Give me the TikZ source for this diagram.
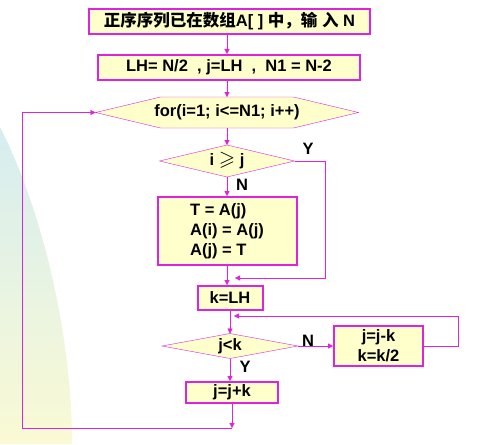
\documentclass[tikz,border=0pt]{standalone}
\usepackage{fontspec}
\setmainfont{Liberation Sans}
\newfontfamily\cjk{Noto Sans CJK SC}
\usepackage{amssymb}
\usetikzlibrary{shapes,arrows,positioning,arrows.meta,backgrounds}
\definecolor{edge}{RGB}{222,34,222}
\definecolor{boxfill}{RGB}{255,255,204}
\definecolor{bgtop}{RGB}{214,237,240}
\definecolor{bgbot}{RGB}{250,250,212}

\begin{document}
\begin{tikzpicture}[x=1pt, y=-1pt, font=\fontsize{16.5}{20}\selectfont\bfseries, line width=2pt]

% Styles for boxes
\tikzstyle{box} = [rectangle, draw=edge, fill=boxfill, inner sep=0pt, text centered]
\tikzstyle{gate} = [rectangle, inner sep=0pt, text centered]
\tikzstyle{outline} = [draw=edge, fill=boxfill]
\tikzstyle{tag} = [inner sep=0pt]
\tikzstyle{arr} = [draw=edge, -{Triangle[length=5pt,width=5pt]}]

\useasboundingbox (0,0) rectangle (481,444);
\shade[top color=bgtop, bottom color=bgbot] (0,127) .. controls (40,205) and (72,330) .. (72,444) -- (0,444) -- cycle;

% Nodes
\node [box, minimum width=281pt, minimum height=25pt] (start) at (229.5,21.5) {{\cjk 正序序列已在数组}A[ ] {\cjk 中，输}~{\cjk 入}~N};
\node [box, minimum width=262pt, minimum height=25pt] (init) at (229,67.5) {LH= N/2\ \ , j=LH\ \ ,\ \ N1 = N-2};
\node [gate, minimum width=261pt, minimum height=29pt] (loop) at (227,112.5) {for(i=1; i<=N1; i++)};
\node [gate, minimum width=133pt, minimum height=30pt] (cond1) at (227,161) {i\ {\fontsize{21}{20}\selectfont$\geqslant$}\ j};
\node [box, minimum width=139pt, minimum height=68pt, align=left] (swap) at (227,231) {T = A(j)\\A(i) = A(j)\\A(j) = T};
\node [box, minimum width=65pt, minimum height=24pt] (kbox) at (230,298) {k=LH};
\node [gate, minimum width=134pt, minimum height=23pt] (cond2) at (230,346) {j<k};
\node [box, minimum width=89pt, minimum height=40pt, align=center] (shrink) at (378.5,346) {j=j-k\\k=k/2};
\node [box, minimum width=92pt, minimum height=21pt] (inc) at (232,392.5) {j=j+k};

\node [tag] (yes1) at (308,149) {Y};
\node [tag] (no1) at (242,185) {N};
\node [tag] (no2) at (308,341) {N};
\node [tag] (yes2) at (245,367) {Y};

\coordinate (join1) at (235,278);
\coordinate (join2) at (234,316);
\coordinate (back) at (232,428);
\coordinate (lft) at (22,428);

% Shapes behind the texts
\begin{pgfonlayer}{background}
\draw[outline] (loop.west) -- ([xshift=65pt]loop.north west) -- ([xshift=-65pt]loop.north east) -- (loop.east)
  -- ([xshift=-65pt]loop.south east) -- ([xshift=65pt]loop.south west) -- cycle;
\draw[outline] (cond1.west) -- (cond1.north) -- (cond1.east) -- (cond1.south) -- cycle;
\draw[outline] (cond2.west) -- (cond2.north) -- (cond2.east) -- (cond2.south) -- cycle;
\end{pgfonlayer}

% Edges
\draw[arr] (start.south -| loop) -- (init.north -| loop);
\draw[arr] (init.south -| loop) -- (loop.north);
\draw[arr] (loop) -- (cond1);
\draw[arr] (cond1) -- (swap);
\draw[arr] (cond1.east) -- ++(31,0) |- (join1);
\draw[arr] (swap.south) -- (swap.south |- kbox.north);
\draw[arr] (kbox) -- (cond2);
\draw[arr] (cond2.east) -- (cond2.east -| shrink.west);
\draw[arr] (shrink.east) -- ++(34,0) |- (join2);
\draw[arr] (cond2.south) -- (cond2.south |- inc.north);
\draw[arr] (inc) -- (back);
\draw[arr] (back) -- (lft) |- (loop.west);

\end{tikzpicture}
\end{document}
